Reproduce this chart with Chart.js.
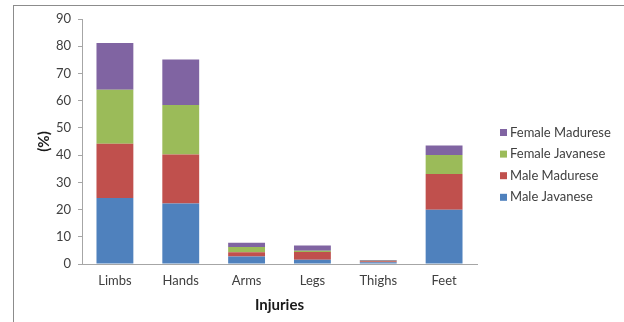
<!DOCTYPE html>
<html>
<head>
<meta charset="utf-8">
<script src="https://cdn.jsdelivr.net/npm/chart.js@4"></script>
<style>
  html, body { margin: 0; padding: 0; background: #fff; overflow: hidden; }
  #frame { position: absolute; left: 13px; top: 5px; width: 700px; height: 400px;
           border-left: 1px solid #8c8c8c; border-top: 1px solid #8c8c8c; }
  #wrap { position: absolute; left: 0; top: 0; width: 624px; height: 322px; }
</style>
</head>
<body>
<div id="frame"></div>
<div id="wrap"><canvas id="c" width="624" height="322"></canvas></div>
<script>
const categories = ['Limbs', 'Hands', 'Arms', 'Legs', 'Thighs', 'Feet'];
const maleJavanese    = [24.2, 22.2, 2.8, 1.6, 0.6, 19.9];
const maleMadurese    = [20.0, 18.0, 1.5, 2.8, 0.4, 13.2];
const femaleJavanese  = [19.8, 18.2, 1.9, 0.5, 0.2, 6.9];
const femaleMadurese  = [17.2, 16.7, 1.6, 1.9, 0.3, 3.5];
const yTicks = [0, 10, 20, 30, 40, 50, 60, 70, 80, 90];

const FONT = 'Lato, "Open Sans", sans-serif';
const TEXT = '#404040';
const AXIS = '#a6a6a6';

const legendPlugin = {
  id: 'sideLegend',
  afterDraw(chart) {
    const ctx = chart.ctx;
    const ds = chart.data.datasets;
    const x0 = 500, y0 = 132.5, step = 21.6;
    ctx.save();
    ctx.font = '13px ' + FONT;
    ctx.textBaseline = 'middle';
    ctx.textAlign = 'left';
    for (let i = ds.length - 1, row = 0; i >= 0; i--, row++) {
      const y = y0 + row * step;
      ctx.fillStyle = ds[i].backgroundColor;
      ctx.fillRect(x0, y - 3.5, 7, 7);
      ctx.fillStyle = TEXT;
      ctx.fillText(ds[i].label, x0 + 10, y);
    }
    ctx.restore();
  }
};

new Chart(document.getElementById('c'), {
  type: 'bar',
  data: {
    labels: categories,
    datasets: [
      { label: 'Male Javanese', data: maleJavanese, backgroundColor: '#4F81BD' },
      { label: 'Male Madurese', data: maleMadurese, backgroundColor: '#C0504D' },
      { label: 'Female Javanese', data: femaleJavanese, backgroundColor: '#9BBB59' },
      { label: 'Female Madurese', data: femaleMadurese, backgroundColor: '#8064A2' }
    ]
  },
  options: {
    responsive: false,
    animation: false,
    devicePixelRatio: 1,
    layout: { padding: { left: 30, right: 147, top: 19, bottom: 0 } },
    datasets: { bar: { categoryPercentage: 1, barPercentage: 0.56, borderWidth: 0 } },
    plugins: { legend: { display: false }, tooltip: { enabled: false } },
    scales: {
      x: {
        stacked: true,
        grid: { display: false, drawTicks: false },
        border: { display: true, color: AXIS, width: 1 },
        ticks: { color: TEXT, font: { family: FONT, size: 13 }, padding: 9, maxRotation: 0 },
        title: { display: true, text: 'Injuries', color: '#1a1a1a',
                 font: { family: FONT, size: 15, weight: 'bold' }, padding: { top: 0, bottom: 8 } },
        afterFit(s) { s.height = 58; }
      },
      y: {
        stacked: true,
        min: 0, max: 90,
        afterBuildTicks(s) { s.ticks = yTicks.map(v => ({ value: v })); },
        grid: { display: true, drawOnChartArea: false, drawTicks: true, tickLength: 4, color: AXIS },
        border: { display: true, color: AXIS, width: 1 },
        ticks: { color: TEXT, font: { family: FONT, size: 13 }, padding: 7 },
        title: { display: true, text: '(%)', color: '#1a1a1a',
                 font: { family: FONT, size: 15, weight: 'bold' }, padding: { top: 5, bottom: 0 } },
        afterFit(s) { s.width = 52; }
      }
    }
  },
  plugins: [legendPlugin]
});
</script>
</body>
</html>
